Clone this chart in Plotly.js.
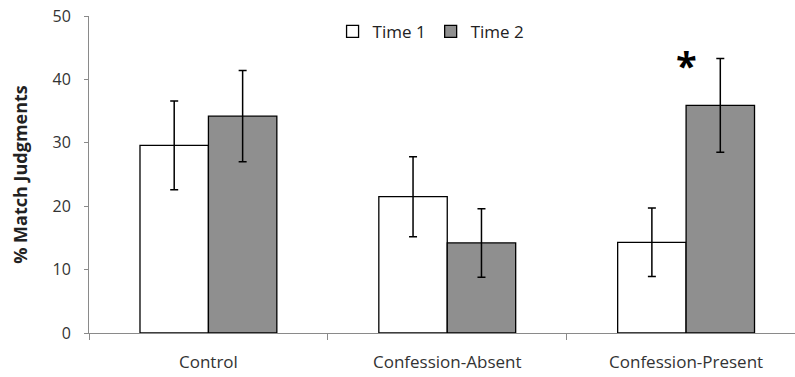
<!DOCTYPE html>
<html>
<head>
<meta charset="utf-8">
<script src="https://cdn.plot.ly/plotly-3.0.1.min.js"></script>
<style>html,body{margin:0;padding:0;background:#fff;}#chart{width:795px;height:377px;}</style>
</head>
<body>
<div id="chart"></div>
<script>
const categories = ["Control", "Confession-Absent", "Confession-Present"];
const time1 = [29.6, 21.5, 14.3];
const time1Err = [7.0, 6.3, 5.4];
const time2 = [34.2, 14.2, 35.9];
const time2Err = [7.2, 5.4, 7.4];
const yTicks = [0, 10, 20, 30, 40, 50];

const font = "'Open Sans', 'Noto Sans', sans-serif";

const traces = [
  {
    type: "bar", name: "Time 1", x: categories, y: time1,
    marker: {color: "#ffffff", line: {color: "#000000", width: 1.3}},
    error_y: {type: "data", array: time1Err, visible: true, color: "#000000", thickness: 1.5, width: 4}
  },
  {
    type: "bar", name: "Time 2", x: categories, y: time2,
    marker: {color: "#8f8f8f", line: {color: "#000000", width: 1.3}},
    error_y: {type: "data", array: time2Err, visible: true, color: "#000000", thickness: 1.5, width: 4}
  }
];

const layout = {
  width: 795, height: 377,
  margin: {l: 89, r: 0, t: 16, b: 44},
  paper_bgcolor: "#ffffff", plot_bgcolor: "#ffffff",
  font: {family: font, color: "#333333", size: 16},
  barmode: "group", bargap: 0.427, bargroupgap: 0,
  showlegend: true,
  legend: {orientation: "h", x: 0.345, xanchor: "left", y: 0.95, yanchor: "middle",
           font: {size: 17, color: "#222222"}, itemwidth: 30, bgcolor: "rgba(0,0,0,0)"},
  xaxis: {
    type: "category", range: [-0.5, 2.456], showgrid: false, zeroline: false,
    showline: true, linecolor: "#8a8a8a", linewidth: 1,
    ticks: "outside", tickson: "boundaries", ticklen: 6, tickcolor: "#8a8a8a",
    tickfont: {size: 17, color: "#333333"}, ticklabelstandoff: 14, fixedrange: true
  },
  yaxis: {
    range: [0, 50], tickvals: yTicks, ticktext: yTicks.map(String),
    showgrid: false, zeroline: false, showline: true, linecolor: "#8a8a8a", linewidth: 1,
    ticks: "outside", ticklen: 4, tickcolor: "#8a8a8a",
    tickfont: {size: 16, color: "#333333"}, ticklabelstandoff: 10,
    title: {text: "% Match Judgments", font: {size: 18, color: "#222222", family: font, weight: "bold"}, standoff: 20}
  },
  annotations: [
    {x: "Confession-Present", y: 42.3, xref: "x", yref: "y", text: "<b>*</b>", showarrow: false,
     font: {size: 38, color: "#000000", family: font}}
  ]
};

Plotly.newPlot("chart", traces, layout, {displayModeBar: false, staticPlot: true});
</script>
</body>
</html>
